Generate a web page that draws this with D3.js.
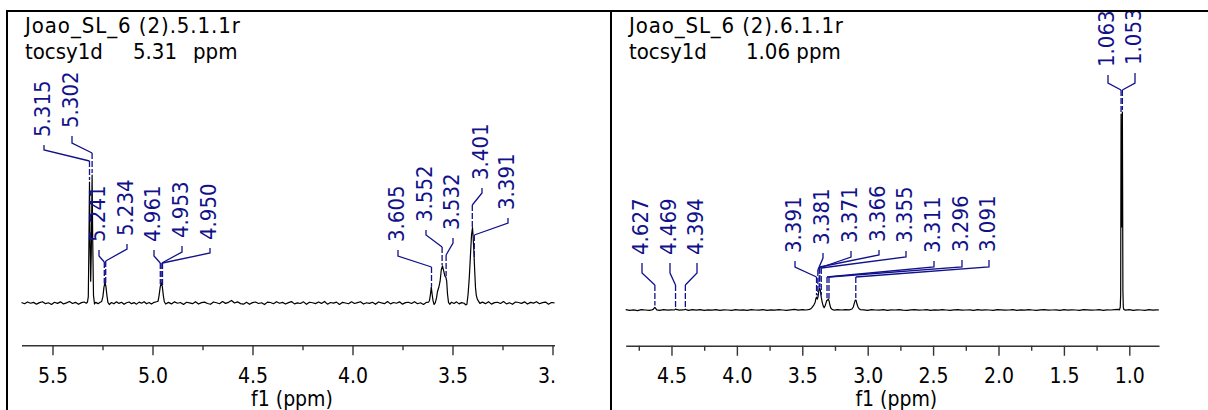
<!DOCTYPE html>
<html><head><meta charset="utf-8">
<script src="https://cdn.jsdelivr.net/npm/d3@7"></script>
<style>
html,body{margin:0;padding:0;background:#fff;}
svg{display:block;}
text{font-family:"DejaVu Sans Condensed","DejaVu Sans",sans-serif;font-stretch:condensed;}
</style></head><body>
<svg id="c" width="1208" height="410"></svg>
<script>
// ---------------- DATA ----------------
const leftTitle = "Joao_SL_6 (2).5.1.1r";
const leftSubtitle = ["tocsy1d", "5.31", "ppm"];
const rightTitle = "Joao_SL_6 (2).6.1.1r";
const rightSubtitle = ["tocsy1d", "1.06 ppm"];
const axisTitle = "f1 (ppm)";

const leftTicks = [5.5, 5.0, 4.5, 4.0, 3.5, 3.0];
const leftMinorTicks = [5.25, 4.75, 4.25, 3.75, 3.25];
const rightTicks = [4.5, 4.0, 3.5, 3.0, 2.5, 2.0, 1.5, 1.0];
const rightMinorTicks = [4.75, 4.25, 3.75, 3.25, 2.75, 2.25, 1.75, 1.25];

const leftPeaks = [5.315, 5.302, 5.241, 5.234, 4.961, 4.953, 4.950, 3.605, 3.552, 3.532, 3.401, 3.391];
const rightPeaks = [4.627, 4.469, 4.394, 3.391, 3.381, 3.371, 3.366, 3.355, 3.311, 3.296, 3.091, 1.063, 1.053];

// [ppm, relative intensity]
const leftSpectrum = [
[5.655,0.4],[5.640,-0.6],[5.625,0.8],[5.610,-0.2],[5.595,0.5],[5.580,-0.9],[5.565,0.3],[5.550,1.0],[5.535,-0.5],[5.520,0.2],
[5.505,-1.1],[5.490,0.6],[5.475,-0.3],[5.460,0.9],[5.445,-0.7],[5.430,0.1],[5.415,1.2],[5.400,-0.4],[5.385,0.5],[5.370,-1.0],
[5.355,0.3],[5.342,0.8],[5.331,-0.2],
[5.325,0.8],[5.321,5],[5.318,45],[5.315,94.5],[5.3125,50],[5.309,17],[5.306,40],[5.302,100],[5.299,50],[5.295,6],[5.290,-0.8],[5.284,0.5],
[5.272,-0.5],[5.262,0.6],[5.254,1.2],[5.248,5],[5.243,12],[5.2375,16.4],[5.233,13],[5.228,6],[5.223,0.5],[5.216,-1.2],
[5.205,0.4],[5.193,-0.6],[5.180,0.9],[5.168,-0.3],[5.155,0.6],[5.142,-1.0],[5.130,0.2],[5.117,0.8],[5.105,-0.5],[5.092,0.3],
[5.080,-0.9],[5.067,0.7],[5.055,-0.2],[5.042,1.0],[5.030,-0.6],[5.017,0.4],[5.005,-0.8],[4.992,0.5],[4.980,1.0],
[4.972,1.5],[4.967,6],[4.961,13],[4.956,15.6],[4.951,13],[4.946,6],[4.941,1.0],[4.934,-0.8],
[4.920,0.5],[4.905,-0.7],[4.890,0.9],[4.875,-0.2],[4.860,0.4],[4.845,-1.1],[4.830,0.6],[4.815,0.1],[4.800,-0.5],[4.785,1.0],
[4.770,-0.8],[4.755,0.3],[4.740,0.7],[4.725,-0.4],[4.710,-1.0],[4.695,0.8],[4.680,0.2],[4.665,-0.6],[4.650,1.1],[4.635,-0.3],
[4.620,0.5],[4.605,2.0],[4.590,0.0],[4.575,0.9],[4.560,-0.5],[4.545,-0.9],[4.530,0.6],[4.515,-1.0],[4.500,0.3],[4.485,0.8],
[4.470,-0.4],[4.455,0.2],[4.440,-1.2],[4.425,0.7],[4.410,0.4],[4.395,-0.6],[4.380,1.0],[4.365,-0.2],[4.350,0.5],[4.335,-0.8],
[4.320,0.3],[4.305,1.1],[4.290,-0.7],[4.275,0.1],[4.260,-0.4],[4.245,0.9],[4.230,-1.0],[4.215,0.6],[4.200,0.2],[4.185,-0.5],
[4.170,0.8],[4.155,-0.3],[4.140,1.2],[4.125,-0.9],[4.110,0.4],[4.095,-0.1],[4.080,0.7],[4.065,-1.1],[4.050,0.5],[4.035,0.0],
[4.020,-0.6],[4.005,0.9],[3.990,-0.4],[3.975,0.3],[3.960,1.0],[3.945,-0.8],[3.930,0.2],[3.915,-0.3],[3.900,0.6],[3.885,-1.0],
[3.870,0.8],[3.855,0.1],[3.840,-0.5],[3.825,1.1],[3.810,-0.7],[3.795,0.4],[3.780,-0.2],[3.765,0.9],[3.750,-0.9],[3.735,0.3],
[3.720,0.6],[3.705,-0.4],[3.690,1.0],[3.675,-0.6],[3.660,0.2],[3.645,-1.1],[3.630,0.5],
[3.620,0.6],[3.615,2],[3.610,7],[3.606,12.5],[3.602,7],[3.597,1.5],[3.592,-1.2],[3.586,0.3],[3.580,4],[3.575,9],
[3.568,12.5],[3.562,17],[3.556,26],[3.550,29],[3.544,25],[3.538,21],[3.533,20],[3.529,17],[3.525,7],[3.520,0.5],[3.514,-1.0],
[3.505,0.6],[3.492,-0.4],[3.480,0.9],[3.467,-0.7],[3.455,0.3],[3.442,-0.2],[3.434,-1.5],
[3.428,-1.0],[3.422,7],[3.416,20],[3.410,38],[3.405,53],[3.400,59],[3.397,52],[3.393,40],[3.389,25],[3.385,12],
[3.381,6],[3.376,3],[3.370,1.5],[3.363,-0.3],
[3.350,0.7],[3.335,-0.5],[3.320,1.0],[3.305,-0.9],[3.290,0.3],[3.275,0.6],[3.260,-0.4],[3.245,1.1],[3.230,-0.7],[3.215,0.2],
[3.200,-1.0],[3.185,0.8],[3.170,0.4],[3.155,-0.3],[3.140,0.9],[3.125,-0.8],[3.110,0.5],[3.095,-0.1],[3.080,1.0],[3.065,-0.6],
[3.050,0.3],[3.035,0.7],[3.020,-0.9],[3.005,0.4],[2.990,0.1]
];

const rightSpectrum = [
[4.850,0.2],[4.820,-0.2],[4.790,0.1],[4.760,-0.3],[4.730,0.2],[4.700,0.0],[4.670,-0.2],[4.650,0.1],[4.640,0.3],[4.633,0.9],
[4.627,1.3],[4.621,0.8],[4.613,0.1],[4.590,-0.2],[4.560,0.2],[4.530,-0.1],[4.500,0.1],[4.480,0.0],[4.473,0.3],[4.469,0.5],
[4.465,0.3],[4.440,-0.1],[4.415,0.1],[4.400,0.2],[4.394,0.4],[4.388,0.2],[4.370,-0.2],[4.340,0.2],[4.310,-0.1],[4.280,0.2],
[4.250,-0.2],[4.220,0.1],[4.190,-0.1],[4.160,0.2],[4.130,-0.2],[4.100,0.1],[4.070,0.0],[4.040,-0.2],[4.010,0.2],[3.980,-0.1],
[3.950,0.1],[3.920,-0.2],[3.890,0.2],[3.860,0.0],[3.830,-0.1],[3.800,0.2],[3.770,-0.2],[3.740,0.1],[3.710,-0.1],[3.680,0.2],
[3.650,0.0],[3.620,-0.2],[3.590,0.1],[3.560,0.3],[3.530,-0.1],[3.500,0.2],[3.470,0.0],[3.445,0.3],
[3.435,0.6],[3.425,1.3],[3.412,2.5],[3.402,3.8],[3.395,6],[3.390,6.5],[3.385,5.5],[3.380,6.5],[3.374,9.5],[3.368,11],
[3.362,10],[3.355,6.5],[3.348,4],[3.340,2],[3.333,1.2],[3.326,2],[3.319,3.5],[3.313,4.8],[3.307,5],[3.301,5.5],
[3.295,4.5],[3.289,2.5],[3.282,1.0],[3.272,0.3],[3.255,-0.1],[3.230,0.2],[3.200,0.0],[3.170,0.2],[3.140,0.1],[3.120,0.5],
[3.110,1.5],[3.102,3.5],[3.095,5],[3.089,5],[3.082,3],[3.074,1.5],[3.066,0.6],[3.055,0.2],
[3.030,0.1],[3.000,-0.2],[2.970,0.2],[2.940,0.0],[2.910,-0.1],[2.880,0.2],[2.850,-0.2],[2.820,0.1],[2.790,0.0],[2.760,0.2],
[2.730,-0.1],[2.700,-0.2],[2.670,0.1],[2.640,0.2],[2.610,-0.1],[2.580,0.0],[2.550,0.2],[2.520,-0.2],[2.490,0.1],[2.460,-0.1],
[2.430,0.2],[2.400,0.0],[2.370,-0.2],[2.340,0.1],[2.310,0.2],[2.280,-0.1],[2.250,0.0],[2.220,0.1],[2.190,-0.2],[2.160,0.2],
[2.130,-0.1],[2.100,0.1],[2.070,0.0],[2.040,-0.2],[2.010,0.2],[1.980,0.1],[1.950,-0.1],[1.920,0.0],[1.890,0.2],[1.860,-0.2],
[1.830,0.1],[1.800,-0.1],[1.770,0.2],[1.740,0.0],[1.710,-0.2],[1.680,0.1],[1.650,0.2],[1.620,-0.1],[1.590,0.0],[1.560,0.1],
[1.530,-0.2],[1.500,0.2],[1.470,-0.1],[1.440,0.1],[1.410,0.0],[1.380,-0.2],[1.350,0.2],[1.320,0.1],[1.290,-0.1],[1.260,0.0],
[1.230,0.2],[1.200,-0.2],[1.170,0.1],[1.140,0.0],[1.110,0.2],[1.085,0.3],
[1.075,0.1],[1.069,1.5],[1.066,8],[1.064,70],[1.063,99],[1.0615,70],[1.059,42],[1.057,42],[1.0545,75],[1.053,100],
[1.0515,70],[1.049,10],[1.046,1.5],[1.042,0.3],
[1.030,-0.1],[1.000,0.2],[0.970,-0.2],[0.940,0.1],[0.910,0.0],[0.880,-0.2],[0.850,0.2],[0.820,-0.1],[0.790,0.1],[0.773,0.0]
];

// ---------------- LAYOUT (px) ----------------
// label layout: [leaderX, textBottomY, cornerY, diagonalEndY]
const leftLabelLayout = [
[44,137,150,161],[72,128,143,153],[99,242,256,262],[127,236,249,261],
[154,242,256,263],[182,238,252,263],[210,240,253,263],
[398,242,256,267],[426,222,235,247],[453,230,243,255],[482,180,193,205],[508,210,223,235]
];
const rightLabelLayout = [
[642,255,273,285],[670,255,273,285],[697,255,273,285],
[795,253,267,277],[823,245,258,270],[851,243,257,268],[879,242,255,267],[906,243,257,268],
[934,253,267,277],[962,252,267,277],[989,252,267,277],
[1108,67,83,90],[1135,65,83,90]
];

const panels = [
  {id:"L", spectrum:leftSpectrum, peaks:leftPeaks, labels:leftLabelLayout, ticks:leftTicks, minor:leftMinorTicks,
   domain:[5.655,2.99], range:[21.5,554.5], base:303, top:175, axisY:345.3,
   clip:{x:8,y:12,w:602,h:398}, titleX:25, title:leftTitle, sub:leftSubtitle, subX:[25,133,193], titleLen:215},
  {id:"R", spectrum:rightSpectrum, peaks:rightPeaks, labels:rightLabelLayout, ticks:rightTicks, minor:rightMinorTicks,
   domain:[4.85,0.773], range:[625.7,1159], base:310, top:112, axisY:345.8,
   clip:{x:612,y:12,w:596,h:398}, titleX:629, title:rightTitle, sub:rightSubtitle, subX:[629,746], titleLen:214}
];

const NAVY = "#11118a";
const svg = d3.select("#c");
svg.append("rect").attr("width",1208).attr("height",410).attr("fill","#fff");
const defs = svg.append("defs");

function intensityAt(spec, ppm){
  for (let i=0;i<spec.length-1;i++){
    const a=spec[i], b=spec[i+1];
    if (ppm<=a[0] && ppm>=b[0]){
      const t=(a[0]-ppm)/(a[0]-b[0]);
      return a[1]+(b[1]-a[1])*t;
    }
  }
  return 0;
}

panels.forEach(p => {
  defs.append("clipPath").attr("id","clip"+p.id).append("rect")
    .attr("x",p.clip.x).attr("y",p.clip.y).attr("width",p.clip.w).attr("height",p.clip.h);
  // axis clip in the axis group's own (translated) coordinates
  defs.append("clipPath").attr("id","axclip"+p.id).append("rect")
    .attr("x",p.range[0]-1).attr("y",-4).attr("width",p.range[1]-p.range[0]+2).attr("height",60);

  const g = svg.append("g").attr("clip-path",`url(#clip${p.id})`);
  const x = d3.scaleLinear().domain(p.domain).range(p.range);
  const y = d3.scaleLinear().domain([0,100]).range([p.base,p.top]);

  // titles
  g.append("text").attr("x",p.titleX).attr("y",33).attr("font-size",22).attr("fill","#000")
    .attr("textLength",p.titleLen).attr("lengthAdjust","spacing").text(p.title);
  p.sub.forEach((s,i)=>{
    g.append("text").attr("x",p.subX[i]).attr("y",59).attr("font-size",22).attr("fill","#000").text(s);
  });

  // spectrum
  g.append("path").datum(p.spectrum)
    .attr("d", d3.line().x(d=>x(d[0])).y(d=>y(d[1])))
    .attr("fill","none").attr("stroke","#000").attr("stroke-width",1.2).attr("stroke-linejoin","round");

  // peak labels + leaders
  const lg = g.append("g");
  p.peaks.forEach((ppm,i)=>{
    const [lx,tb,cy,de] = p.labels[i];
    const px = x(ppm);
    const top = y(intensityAt(p.spectrum, ppm)) - 2;
    lg.append("text")
      .attr("transform",`translate(${lx+6},${tb}) rotate(-90)`)
      .attr("font-size",22).attr("fill",NAVY).text(ppm.toFixed(3));
    lg.append("path")
      .attr("d",`M${lx},${tb+8}L${lx},${cy}L${px},${de}`)
      .attr("fill","none").attr("stroke",NAVY).attr("stroke-width",1.3);
    if (top > de) {
      lg.append("line").attr("x1",px).attr("x2",px).attr("y1",de).attr("y2",top)
        .attr("stroke",NAVY).attr("stroke-width",1.3).attr("stroke-dasharray","6,2");
    }
  });

  // axis
  const ag = g.append("g").attr("transform",`translate(0,${p.axisY})`)
    .append("g").attr("clip-path",`url(#axclip${p.id})`);
  const axMaj = d3.axisBottom(x).tickValues(p.ticks).tickFormat(d3.format(".1f")).tickSize(10).tickSizeOuter(0);
  ag.call(axMaj);
  ag.attr("font-size",21).attr("font-family",'"DejaVu Sans Condensed","DejaVu Sans",sans-serif');
  ag.select(".domain").attr("stroke","#333").attr("stroke-width",1.6);
  ag.selectAll(".tick line").attr("stroke","#333").attr("stroke-width",1.4);
  ag.selectAll(".tick text").attr("y",37.7).attr("dy",0).attr("font-size",21).attr("fill","#000");
  const mg = g.append("g").attr("transform",`translate(0,${p.axisY})`);
  mg.call(d3.axisBottom(x).tickValues(p.minor).tickFormat("").tickSize(5).tickSizeOuter(0));
  mg.select(".domain").remove();
  mg.selectAll(".tick line").attr("stroke","#333").attr("stroke-width",1.4);

  g.append("text").attr("x",(p.range[0]+p.range[1])/2+4).attr("y",406)
    .attr("text-anchor","middle").attr("font-size",21).attr("fill","#000").text(axisTitle);
});

// frame
const fr = svg.append("g").attr("stroke","#000").attr("stroke-width",2);
fr.append("line").attr("x1",6).attr("x2",1208).attr("y1",11).attr("y2",11);
fr.append("line").attr("x1",7).attr("x2",7).attr("y1",10).attr("y2",410);
fr.append("line").attr("x1",611).attr("x2",611).attr("y1",10).attr("y2",410);
</script>
</body></html>
